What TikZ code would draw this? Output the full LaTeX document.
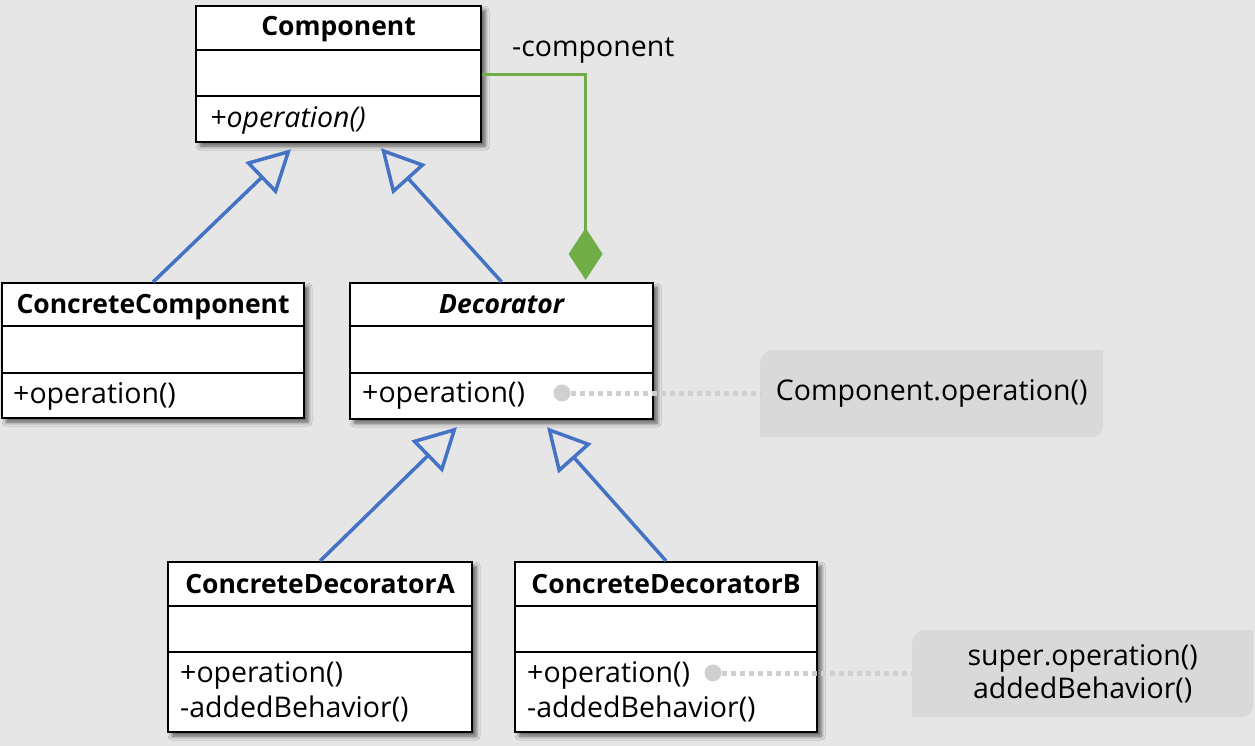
\documentclass[tikz,border=0pt]{standalone}
\usepackage{fontspec}
\setmainfont{Open Sans}
\usetikzlibrary{arrows.meta,shadows.blur,calc}

\definecolor{bg}{HTML}{E6E6E6}
\definecolor{notefill}{HTML}{D9D9D9}
\definecolor{dotgray}{HTML}{D0D0D0}
\definecolor{inherit}{HTML}{4472C4}
\definecolor{compose}{HTML}{70AD47}

\tikzset{
  classbox/.style={draw=black, line width=2.2pt, fill=white, rectangle, inner sep=0pt,
    anchor=north west,
    blur shadow={shadow xshift=4pt, shadow yshift=-4pt, shadow blur radius=4pt, shadow opacity=60}},
  divider/.style={draw=black, line width=1.6pt},
  ttl/.style={font=\fontsize{26.5}{30}\selectfont\bfseries, inner sep=0pt, anchor=base},
  member/.style={font=\fontsize{28.5}{34}\selectfont, inner sep=0pt, anchor=base west},
  inherits/.style={draw=inherit, line width=3.5pt, -{Triangle[open, length=42pt, width=44pt]}},
  owns/.style={draw=compose, line width=3pt, -{Diamond[length=52pt, width=34pt]}, shorten >=2pt},
  notebox/.style={fill=notefill, rounded corners=12pt, inner sep=0pt, anchor=north west,
    font=\fontsize{28.5}{33}\selectfont, align=center},
  anchordot/.style={circle, fill=dotgray, minimum size=17pt, inner sep=0pt},
  dotlink/.style={draw=dotgray, line width=5pt, dash pattern=on 5pt off 4pt},
}

% class box: name, x, y, width, height, first divider, second divider
\newcommand\classframe[7]{%
  \node[classbox, minimum width=#4, minimum height=#5] (#1) at (#2,#3) {};
  \draw[divider] ([yshift=-#6]#1.north west) -- ([yshift=-#6]#1.north east);
  \draw[divider] ([yshift=-#7]#1.north west) -- ([yshift=-#7]#1.north east);
}

\begin{document}
\begin{tikzpicture}[x=1pt, y=-1pt]
  \useasboundingbox (0,0) rectangle (1255,746);
  \fill[bg] (0,0) rectangle (1255,746);

  % classes
  \classframe{comp}{195}{5}{285}{136}{45}{91}
  \node[ttl] (comp-t) at ([yshift=-31]comp.north) {Component};
  \node[member] (comp-m) at ([shift={(15,123)}]comp.north west) {\itshape +operation()};

  \classframe{cc}{1}{282}{302}{135}{44}{91}
  \node[ttl] (cc-t) at ([yshift=-31]cc.north) {ConcreteComponent};
  \node[member] (cc-m) at ([shift={(12,121)}]cc.north west) {+operation()};

  \classframe{dec}{349}{282}{303}{136}{44}{91}
  \node[ttl] (dec-t) at ([yshift=-31]dec.north) {\itshape Decorator};
  \node[member] (dec-m) at ([shift={(13,120)}]dec.north west) {+operation()};

  \classframe{cda}{167}{561}{304}{170}{45}{91}
  \node[ttl] (cda-t) at ([yshift=-32]cda.north) {ConcreteDecoratorA};
  \node[member] (cda-m1) at ([shift={(13,121)}]cda.north west) {+operation()};
  \node[member] (cda-m2) at ([shift={(13,156)}]cda.north west) {-addedBehavior()};

  \classframe{cdb}{514}{561}{302}{170}{45}{91}
  \node[ttl] (cdb-t) at ([yshift=-32]cdb.north) {ConcreteDecoratorB};
  \node[member] (cdb-m1) at ([shift={(13,121)}]cdb.north west) {+operation()};
  \node[member] (cdb-m2) at ([shift={(13,156)}]cdb.north west) {-addedBehavior()};

  % generalisation
  \draw[inherits] (cc.north) -- ([shift={(96,6)}]comp.south west);
  \draw[inherits] (dec.north) -- ([shift={(186,5)}]comp.south west);
  \draw[inherits] (cda.north) -- ([shift={(108,7)}]dec.south west);
  \draw[inherits] (cdb.north) -- ([shift={(198,7)}]dec.south west);

  % composition
  \draw[owns] (comp.east) -| ([xshift=84]dec.north);
  \node[member] (role) at (512,57) {-component};

  % implementation notes
  \node[notebox, minimum width=343, minimum height=87] (note1) at (760,350) {Component.operation()};
  \fill[notefill] (note1.north east) rectangle ++(-16,16);
  \fill[notefill] (note1.south west) rectangle ++(16,-16);

  \node[notebox, minimum width=341, minimum height=87] (note2) at (912,630) {super.operation()\\addedBehavior()};
  \fill[notefill] (note2.north east) rectangle ++(-16,16);
  \fill[notefill] (note2.south west) rectangle ++(16,-16);

  \node[anchordot] (dot1) at (562,393) {};
  \draw[dotlink] (dot1) -- (dot1 -| note1.west);
  \node[anchordot] (dot2) at (713,673) {};
  \draw[dotlink] (dot2) -- (dot2 -| note2.west);
\end{tikzpicture}
\end{document}
